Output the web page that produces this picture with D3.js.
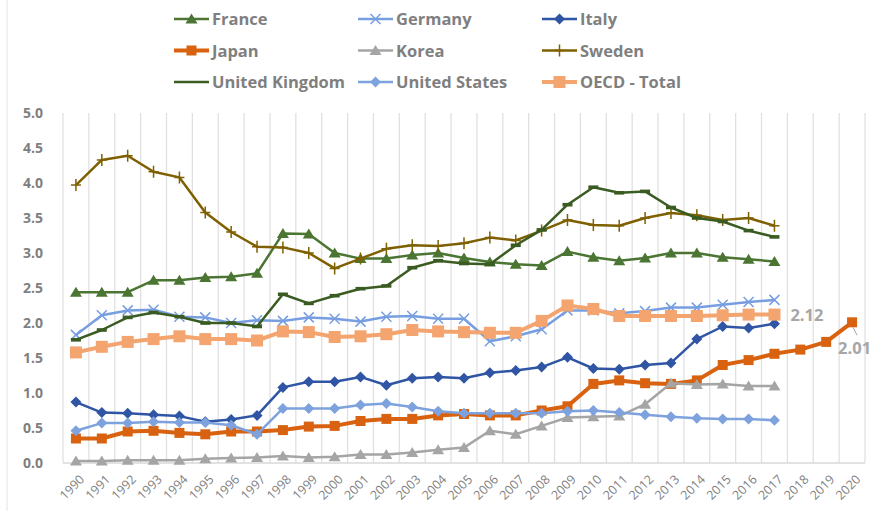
<!DOCTYPE html>
<html>
<head>
<meta charset="utf-8">
<script src="https://cdn.jsdelivr.net/npm/d3@7"></script>
<style>
  body { margin: 0; background: #fff; }
  text { font-family: "Open Sans", sans-serif; }
</style>
</head>
<body>
<div id="chart"></div>
<script>
let years = d3.range(1990, 2021).map(String)
let yTicks = [0, 0.5, 1, 1.5, 2, 2.5, 3, 3.5, 4, 4.5, 5]

let france = [2.44, 2.44, 2.44, 2.61, 2.61, 2.65, 2.66, 2.71, 3.28, 3.27, 3.0, 2.92, 2.92, 2.97, 3.0, 2.93, 2.87, 2.84, 2.82, 3.02, 2.94, 2.89, 2.93, 3.0, 3.0, 2.94, 2.91, 2.88]
let germany = [1.83, 2.11, 2.18, 2.19, 2.09, 2.08, 2.0, 2.04, 2.03, 2.08, 2.06, 2.02, 2.09, 2.1, 2.06, 2.06, 1.74, 1.81, 1.91, 2.18, 2.18, 2.14, 2.17, 2.22, 2.22, 2.26, 2.3, 2.33]
let italy = [0.87, 0.72, 0.71, 0.69, 0.67, 0.59, 0.62, 0.68, 1.08, 1.16, 1.16, 1.23, 1.11, 1.21, 1.23, 1.21, 1.29, 1.32, 1.37, 1.51, 1.35, 1.34, 1.4, 1.43, 1.77, 1.95, 1.93, 1.99]
let japan = [0.35, 0.35, 0.45, 0.46, 0.43, 0.41, 0.45, 0.45, 0.47, 0.52, 0.53, 0.6, 0.63, 0.63, 0.68, 0.7, 0.68, 0.68, 0.75, 0.81, 1.13, 1.18, 1.14, 1.13, 1.18, 1.4, 1.47, 1.56, 1.62, 1.73, 2.01]
let korea = [0.03, 0.03, 0.04, 0.04, 0.04, 0.06, 0.07, 0.08, 0.1, 0.08, 0.09, 0.12, 0.12, 0.15, 0.19, 0.22, 0.46, 0.41, 0.53, 0.65, 0.66, 0.67, 0.84, 1.14, 1.12, 1.13, 1.1, 1.1]
let sweden = [3.97, 4.33, 4.39, 4.16, 4.08, 3.58, 3.3, 3.09, 3.08, 3.0, 2.78, 2.92, 3.06, 3.11, 3.1, 3.14, 3.22, 3.18, 3.32, 3.47, 3.4, 3.39, 3.5, 3.57, 3.54, 3.47, 3.5, 3.39]
let uk = [1.76, 1.9, 2.08, 2.15, 2.09, 2.0, 2.0, 1.95, 2.41, 2.28, 2.39, 2.49, 2.53, 2.79, 2.89, 2.85, 2.84, 3.11, 3.33, 3.69, 3.94, 3.86, 3.88, 3.65, 3.5, 3.45, 3.32, 3.23]
let us = [0.46, 0.57, 0.57, 0.59, 0.58, 0.58, 0.54, 0.41, 0.78, 0.78, 0.78, 0.83, 0.85, 0.8, 0.74, 0.71, 0.71, 0.71, 0.71, 0.74, 0.75, 0.72, 0.69, 0.66, 0.64, 0.63, 0.63, 0.61]
let oecd = [1.58, 1.66, 1.73, 1.77, 1.81, 1.77, 1.77, 1.75, 1.88, 1.87, 1.8, 1.81, 1.84, 1.9, 1.88, 1.87, 1.86, 1.86, 2.03, 2.25, 2.2, 2.1, 2.1, 2.1, 2.1, 2.11, 2.12, 2.12]

let series = [
    { name: 'France', values: france, color: '#4A7532', marker: 'triangle', width: 2.5 },
    { name: 'Germany', values: germany, color: '#779EE0', marker: 'cross', width: 2.5 },
    { name: 'Italy', values: italy, color: '#2F55A4', marker: 'diamond', width: 2.5 },
    { name: 'Japan', values: japan, color: '#D8620F', marker: 'square', width: 4 },
    { name: 'Korea', values: korea, color: '#A5A5A5', marker: 'triangle', width: 2.5 },
    { name: 'Sweden', values: sweden, color: '#7F6000', marker: 'plus', width: 2.5 },
    { name: 'United Kingdom', values: uk, color: '#3A5C22', marker: 'dash', width: 2.5 },
    { name: 'United States', values: us, color: '#7DA2DD', marker: 'diamond', width: 2.5 },
    { name: 'OECD - Total', values: oecd, color: '#F4A46E', marker: 'bigsquare', width: 4 }
]

let svg = d3.select('#chart').append('svg')
    .attr('width', 877)
    .attr('height', 511)

// frame line on the left
svg.append('line')
    .attr('x1', 7).attr('x2', 7)
    .attr('y1', 0).attr('y2', 511)
    .attr('stroke', '#e3e3e3')

let x = d3.scaleBand().domain(years).range([63, 865])
let y = d3.scaleLinear().domain([0, 5]).range([463, 113])

// vertical gridlines between categories
let bounds = years.map(d => x(d)).concat([x.range()[1]])
svg.append('g').selectAll('line')
    .data(bounds)
    .join('line')
    .attr('x1', d => d).attr('x2', d => d)
    .attr('y1', y(5)).attr('y2', y(0))
    .attr('stroke', '#e0e0e0')
    .attr('stroke-width', 1.3)

svg.append('line')
    .attr('x1', 63).attr('x2', 865)
    .attr('y1', y(0)).attr('y2', y(0))
    .attr('stroke', '#d9d9d9')
    .attr('stroke-width', 1.3)

// y axis
let yAxis = svg.append('g')
    .attr('transform', 'translate(43,0)')
    .call(d3.axisLeft(y).tickValues(yTicks).tickFormat(d3.format('.1f')).tickSize(0))
yAxis.select('.domain').remove()
yAxis.selectAll('text')
    .attr('x', 0)
    .attr('fill', '#7f7f7f')
    .style('font-size', '14px')
    .style('font-weight', 'bold')

// x axis
let xAxis = svg.append('g')
    .attr('transform', 'translate(0,' + y(0) + ')')
    .call(d3.axisBottom(x).tickSize(0))
xAxis.select('.domain').remove()
xAxis.selectAll('text')
    .attr('fill', '#7f7f7f')
    .style('font-size', '12.5px')
    .attr('text-anchor', 'end')
    .attr('dy', '0.35em')
    .attr('transform', 'translate(4,12) rotate(-45)')

let line = d3.line()
    .x((d, i) => x(years[i]) + x.bandwidth() / 2)
    .y(d => y(d))

function drawMarker(g, type, color) {
    if (type == 'triangle') {
        g.append('path').attr('d', 'M0,-5.5L6,4.5L-6,4.5Z').attr('fill', color)
    } else if (type == 'diamond') {
        g.append('path').attr('d', 'M0,-5.5L5.5,0L0,5.5L-5.5,0Z').attr('fill', color)
    } else if (type == 'square') {
        g.append('rect').attr('x', -5).attr('y', -5).attr('width', 10).attr('height', 10).attr('fill', color)
    } else if (type == 'bigsquare') {
        g.append('rect').attr('x', -6).attr('y', -6).attr('width', 12).attr('height', 12).attr('fill', color)
    } else if (type == 'cross') {
        g.append('path').attr('d', 'M-5,-5L5,5M-5,5L5,-5').attr('stroke', color).attr('stroke-width', 1.5)
    } else if (type == 'plus') {
        g.append('path').attr('d', 'M0,-6L0,6M-5,0L5,0').attr('stroke', color).attr('stroke-width', 1.5)
    } else if (type == 'dash') {
        g.append('rect').attr('x', -5).attr('y', -1.8).attr('width', 10).attr('height', 3.6).attr('fill', color)
    }
}

series.forEach(s => {
    let g = svg.append('g')
    g.append('path')
        .datum(s.values)
        .attr('d', line)
        .attr('fill', 'none')
        .attr('stroke', s.color)
        .attr('stroke-width', s.width)
        .attr('stroke-linejoin', 'round')
    g.selectAll('.m')
        .data(s.values)
        .join('g')
        .attr('transform', (d, i) => 'translate(' + (x(years[i]) + x.bandwidth() / 2) + ',' + y(d) + ')')
        .each(function () { drawMarker(d3.select(this), s.marker, s.color) })
})

// data labels
let lastOecd = oecd.length - 1
let lastJapan = japan.length - 1
svg.append('text').text(d3.format('.2f')(oecd[lastOecd]))
    .attr('x', x(years[lastOecd]) + x.bandwidth() / 2 + 16)
    .attr('y', y(oecd[lastOecd]) + 6)
    .attr('fill', '#a6a6a6')
    .style('font-size', '16.5px')
    .style('font-weight', 'bold')

let jx = x(years[lastJapan]) + x.bandwidth() / 2
svg.append('line')
    .attr('x1', jx + 1).attr('y1', y(japan[lastJapan]) + 5)
    .attr('x2', jx + 5).attr('y2', y(japan[lastJapan]) + 13)
    .attr('stroke', '#a6a6a6')
svg.append('text').text(d3.format('.2f')(japan[lastJapan]))
    .attr('x', jx - 14)
    .attr('y', y(japan[lastJapan]) + 32)
    .attr('fill', '#a6a6a6')
    .style('font-size', '16.5px')
    .style('font-weight', 'bold')

// legend
let legend = svg.append('g')
series.forEach((s, i) => {
    let col = i % 3
    let row = Math.floor(i / 3)
    let lx = [174, 358, 542][col]
    let ly = 19 + row * 31.5
    let item = legend.append('g').attr('transform', 'translate(' + lx + ',' + ly + ')')
    item.append('line')
        .attr('x1', 0).attr('x2', 35)
        .attr('stroke', s.color)
        .attr('stroke-width', s.width)
    let m = item.append('g').attr('transform', 'translate(17.5,0)')
    if (s.marker != 'dash') drawMarker(m, s.marker, s.color)
    item.append('text').text(s.name)
        .attr('x', 38)
        .attr('y', 6)
        .attr('fill', '#7f7f7f')
        .style('font-size', '16.5px')
        .style('font-weight', 'bold')
})
</script>
</body>
</html>
